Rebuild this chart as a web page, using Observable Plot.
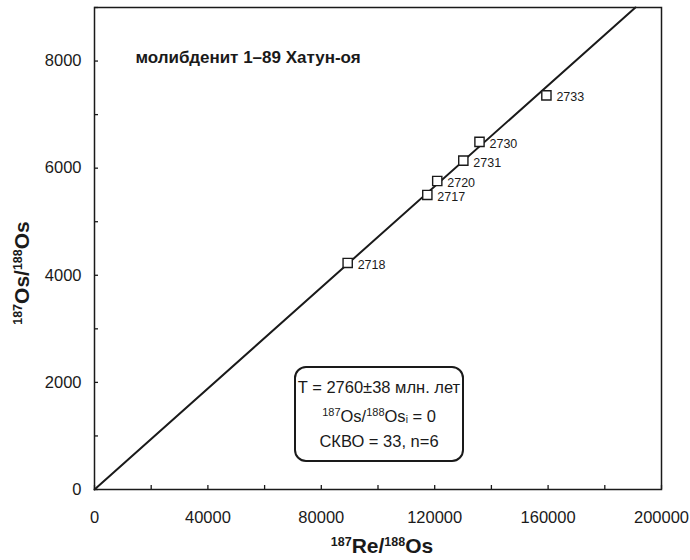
<!DOCTYPE html>
<html>
<head>
<meta charset="utf-8">
<script src="https://cdn.jsdelivr.net/npm/d3@7"></script>
<script src="https://cdn.jsdelivr.net/npm/@observablehq/plot@0.6"></script>
<style>
  html, body { margin: 0; padding: 0; background: #fff; }
  #wrap { position: relative; width: 690px; height: 560px; font-family: "Liberation Sans", Arial, sans-serif; color: #1a1a1a; }
  #wrap svg { display: block; }
  .ylab { position: absolute; left: 22px; top: 273px; transform: translate(-50%, -50%) rotate(-90deg); white-space: nowrap; font-weight: bold; font-size: 21px; }
  .xlab { position: absolute; left: 382px; top: 553px; transform: translate(-50%, -80%); white-space: nowrap; font-weight: bold; font-size: 21px; }
  .ylab sup, .xlab sup { font-size: 12.5px; vertical-align: 7px; }
  .box { position: absolute; left: 294px; top: 366px; width: 166px; height: 92px; border: 2px solid #1a1a1a; border-radius: 12px; font-size: 16.5px; text-align: center; }
  .box div { position: absolute; left: 0; right: 0; white-space: nowrap; }
  .box sup { font-size: 11px; vertical-align: 6px; }
  .box sub { font-size: 10px; vertical-align: -1px; }
</style>
</head>
<body>
<div id="wrap"></div>
<script>
// Data
const sampleLabels = ["2718", "2717", "2720", "2731", "2730", "2733"];
const reOs = [89300, 117400, 120900, 130100, 135800, 159400];   // 187Re/188Os
const osOs = [4230, 5500, 5760, 6140, 6490, 7360];               // 187Os/188Os
const isochronX = [0, 190800];
const isochronY = [0, 9000];
const xMajorTicks = [0, 40000, 80000, 120000, 160000, 200000];
const xAllTicks = d3.range(0, 200001, 20000);
const yMajorTicks = [0, 2000, 4000, 6000, 8000];
const yAllTicks = d3.range(0, 9001, 1000);
const titleText = "молибденит 1–89 Хатун-оя";

const points = sampleLabels.map((s, i) => ({label: s, x: reOs[i], y: osOs[i]}));
const line = isochronX.map((x, i) => ({x, y: isochronY[i]}));

const ink = "#1a1a1a";
const chart = Plot.plot({
  width: 690,
  height: 560,
  marginLeft: 94,
  marginRight: 29,
  marginTop: 7,
  marginBottom: 71,
  style: {fontFamily: "'Liberation Sans', Arial, sans-serif", color: ink, background: "#fff"},
  x: {domain: [0, 200000]},
  y: {domain: [0, 9000]},
  marks: [
    Plot.axisX(xMajorTicks, {tickSize: 0, tickPadding: 22, fontSize: 16.5, tickFormat: d => String(d), label: null}),
    Plot.axisX(xAllTicks, {tickSize: -4, tickPadding: 0, tickFormat: () => "", label: null, stroke: ink, strokeWidth: 1.3}),
    Plot.axisY(yMajorTicks, {tickSize: 0, tickPadding: 13, fontSize: 16.5, tickFormat: d => String(d), label: null}),
    Plot.axisY(yAllTicks, {tickSize: -4, tickPadding: 0, tickFormat: () => "", label: null, stroke: ink, strokeWidth: 1.3}),
    Plot.line(line, {x: "x", y: "y", stroke: ink, strokeWidth: 2}),
    Plot.dot(points, {x: "x", y: "y", symbol: "square", r: 5.2, fill: "white", stroke: ink, strokeWidth: 1.4}),
    Plot.text(points, {x: "x", y: "y", text: "label", dx: 10, dy: 2, textAnchor: "start", fontSize: 12.5, fill: ink}),
    Plot.text([titleText], {frameAnchor: "top-left", dx: 41, dy: 50, textAnchor: "start", lineAnchor: "middle", fontSize: 17, fontWeight: "bold", fill: ink}),
    Plot.frame({stroke: ink, strokeWidth: 1.5})
  ]
});

const wrap = document.getElementById("wrap");
wrap.appendChild(chart);
wrap.insertAdjacentHTML("beforeend", `
  <div class="ylab"><sup>187</sup>Os/<sup>188</sup>Os</div>
  <div class="xlab"><sup>187</sup>Re/<sup>188</sup>Os</div>
  <div class="box">
    <div style="top:10px">T = 2760±38 млн. лет</div>
    <div style="top:38px"><sup>187</sup>Os/<sup>188</sup>Os<sub>i</sub> = 0</div>
    <div style="top:64px">СКВО = 33, n=6</div>
  </div>
`);
</script>
</body>
</html>
